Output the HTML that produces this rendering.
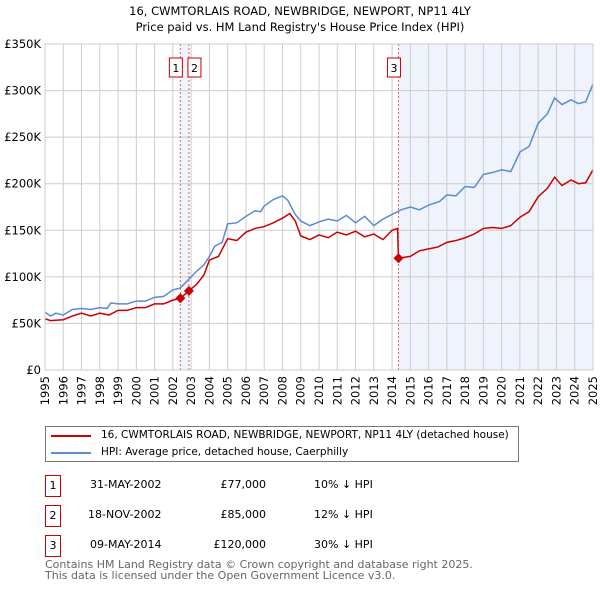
<!DOCTYPE html>
<html><head><meta charset="utf-8"><style>
body{margin:0;background:#fff;font-family:"DejaVu Sans","Liberation Sans",sans-serif;}
#wrap{position:relative;width:600px;height:590px;overflow:hidden}
.t{position:absolute;font-size:11px;color:#000;white-space:nowrap}
.box{position:absolute;border:1px solid #c00;width:14px;height:20px;text-align:center;font-size:11px;line-height:20px}
</style></head><body>
<div id="wrap">
<svg id="chart" width="600" height="420" style="position:absolute;left:0;top:0"></svg>
<div style="position:absolute;left:45px;top:426px;width:472px;height:34px;border:1px solid #777">
 <div><div style="position:absolute;left:5px;top:8px;width:40px;height:2px;background:#c00"></div><span class="t" style="left:55px;top:2px;font-size:10.5px">16, CWMTORLAIS ROAD, NEWBRIDGE, NEWPORT, NP11 4LY (detached house)</span></div>
 <div><div style="position:absolute;left:5px;top:25px;width:40px;height:2px;background:#5b8bd0"></div><span class="t" style="left:55px;top:19px;font-size:10.5px">HPI: Average price, detached house, Caerphilly</span></div>
</div>
<div><div class="box" style="left:45px;top:475px">1</div><span class="t" style="left:90px;top:478px">31-MAY-2002</span><span class="t" style="left:200px;top:478px;width:66px;text-align:right">£77,000</span><span class="t" style="left:314px;top:478px">10% ↓ HPI</span></div>
<div><div class="box" style="left:45px;top:505px">2</div><span class="t" style="left:88px;top:508px">18-NOV-2002</span><span class="t" style="left:200px;top:508px;width:66px;text-align:right">£85,000</span><span class="t" style="left:314px;top:508px">12% ↓ HPI</span></div>
<div><div class="box" style="left:45px;top:535px">3</div><span class="t" style="left:90px;top:538px">09-MAY-2014</span><span class="t" style="left:200px;top:538px;width:66px;text-align:right">£120,000</span><span class="t" style="left:314px;top:538px">30% ↓ HPI</span></div>
<div class="t" style="left:45px;top:559px;color:#666;line-height:11px">Contains HM Land Registry data © Crown copyright and database right 2025.<br>This data is licensed under the Open Government Licence v3.0.</div>
</div>
<script>
const hpiYears=[1995,1995.3,1995.6,1996,1996.5,1997,1997.5,1998,1998.4,1998.6,1999,1999.5,2000,2000.5,2001,2001.5,2002,2002.4,2002.9,2003.3,2003.7,2004,2004.3,2004.7,2005,2005.5,2006,2006.5,2006.8,2007,2007.5,2008,2008.3,2008.7,2009,2009.5,2010,2010.5,2011,2011.5,2012,2012.5,2013,2013.5,2014,2014.5,2015,2015.5,2016,2016.6,2017,2017.5,2018,2018.5,2019,2019.5,2020,2020.5,2021,2021.5,2022,2022.5,2022.9,2023.3,2023.8,2024.2,2024.6,2025];
const hpiValues=[62,58,61,59,65,66,65,67,66,72,71,71,74,74,78,79,86,88,98,106,113,122,133,137,157,158,165,171,170,176,183,187,182,167,160,155,159,162,160,166,158,165,155,162,167,172,175,172,177,181,188,187,197,196,210,212,215,213,234,240,265,275,292,285,290,286,288,307];
const salesYears=[1995,1995.3,1996,1996.5,1997,1997.5,1998,1998.5,1999,1999.5,2000,2000.5,2001,2001.5,2002,2002.41,2002.88,2003.3,2003.7,2004,2004.5,2005,2005.5,2006,2006.5,2007,2007.5,2008,2008.4,2008.7,2009,2009.5,2010,2010.5,2011,2011.5,2012,2012.5,2013,2013.5,2014,2014.3,2014.35,2015,2015.5,2016,2016.5,2017,2017.5,2018,2018.5,2019,2019.5,2020,2020.5,2021,2021.5,2022,2022.5,2022.9,2023.3,2023.8,2024.2,2024.6,2025];
const salesValues=[55,53,54,58,61,58,61,59,64,64,67,67,71,71,75,77,85,92,102,118,122,141,139,148,152,154,158,163,168,160,144,140,145,142,148,145,149,143,146,140,150,152,120,122,128,130,132,137,139,142,146,152,153,152,155,164,170,186,195,207,198,204,200,201,215];
const saleMarkYears=[2002.41,2002.88,2014.35];
const saleMarkValues=[77,85,120];
const saleLabels=["1","2","3"];
const yTicks=[0,50,100,150,200,250,300,350];
const yTickLabels=["£0","£50K","£100K","£150K","£200K","£250K","£300K","£350K"];
const xTicks=[];for(let y=1995;y<=2025;y++)xTicks.push(y);

const FF='DejaVu Sans, Liberation Sans, sans-serif';
const X0=45,X1=593,Y0=370,Y1=44;
const xs=v=>X0+(v-1995)/30*(X1-X0);
const ys=v=>Y0-v/350*(Y0-Y1);
const svg=document.getElementById('chart');const NS='http://www.w3.org/2000/svg';
function mk(tag,attrs,parent){const e=document.createElementNS(NS,tag);for(const k in attrs)e.setAttribute(k,attrs[k]);(parent||svg).appendChild(e);return e;}
let e;
e=mk('rect',{x:xs(2002.41),y:Y1,width:xs(2002.88)-xs(2002.41),height:Y0-Y1,fill:'#eef3fc'});

e=mk('rect',{x:xs(2014.35),y:Y1,width:X1-xs(2014.35),height:Y0-Y1,fill:'#eef3fc'});

xTicks.forEach(v=>{e=mk('line',{x1:xs(v),x2:xs(v),y1:Y1,y2:Y0,stroke:'#ccc','stroke-width':1});

e=mk('text',{x:0,y:0,transform:`translate(${xs(v)+4},${Y0+6}) rotate(-90)`,'text-anchor':'end','font-size':11.5,'font-family':FF});e.textContent=v;
});
yTicks.forEach((v,i)=>{e=mk('line',{x1:X0,x2:X1,y1:ys(v),y2:ys(v),stroke:'#ccc','stroke-width':1});

e=mk('text',{x:X0-4,y:ys(v)+4,'text-anchor':'end','font-size':11.5,'font-family':FF});e.textContent=yTickLabels[i];
});
saleMarkYears.forEach((v,i)=>{e=mk('line',{x1:xs(v),x2:xs(v),y1:Y1,y2:Y0,stroke:'#e06060','stroke-width':1,'stroke-dasharray':'2,2'});
});
e=mk('polyline',{points:hpiYears.map((v,i)=>xs(v)+','+ys(hpiValues[i])).join(' '),fill:'none',stroke:'#5b8bd0','stroke-width':1.5});

e=mk('polyline',{points:salesYears.map((v,i)=>xs(v)+','+ys(salesValues[i])).join(' '),fill:'none',stroke:'#c00','stroke-width':1.5});

saleMarkYears.forEach((v,i)=>{const cx=xs(v),cy=ys(saleMarkValues[i]);
e=mk('polygon',{points:`${cx},${cy-5} ${cx+5},${cy} ${cx},${cy+5} ${cx-5},${cy}`,fill:'#c00'});

const bx=i==1?cx-1:cx-11;
e=mk('rect',{x:bx,y:58,width:13,height:19,fill:'#fff',stroke:'#c00'});

e=mk('text',{x:bx+6.5,y:72,'text-anchor':'middle','font-size':11,'font-family':FF});e.textContent=saleLabels[i];
});
e=mk('rect',{x:X0,y:Y1,width:X1-X0,height:Y0-Y1,fill:'none',stroke:'#ccc'});

e=mk('text',{x:300,y:15,'text-anchor':'middle','font-size':11.5,'font-family':FF});e.textContent='16, CWMTORLAIS ROAD, NEWBRIDGE, NEWPORT, NP11 4LY';

e=mk('text',{x:300,y:31,'text-anchor':'middle','font-size':11.5,'font-family':FF});e.textContent="Price paid vs. HM Land Registry's House Price Index (HPI)";

</script>
</body></html>
